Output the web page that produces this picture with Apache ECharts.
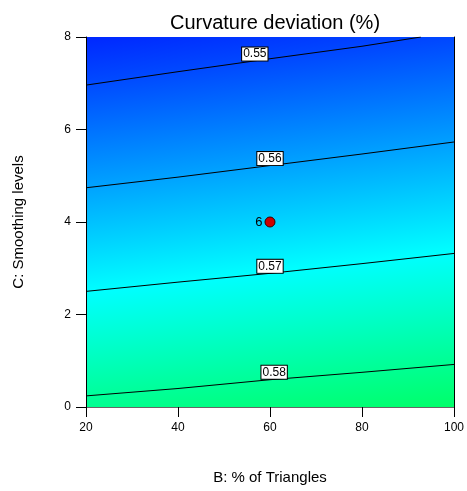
<!DOCTYPE html>
<html>
<head>
<meta charset="utf-8">
<script src="https://cdn.jsdelivr.net/npm/echarts@6/dist/echarts.min.js"></script>
<style>
html,body{margin:0;padding:0;background:#fff;}
#main{width:467px;height:491px;}
</style>
</head>
<body>
<div id="main"></div>
<script>
// axis ticks
var xTicks = [20, 40, 60, 80, 100];
var yTicks = [0, 2, 4, 6, 8];

// contour lines  [B, C]
var contour055 = [[20, 6.96], [40, 7.25], [60, 7.53], [80, 7.80], [92.8, 8.0]];
var contour056 = [[20, 4.74], [40, 4.97], [60, 5.22], [80, 5.47], [100, 5.73]];
var contour057 = [[20, 2.50], [40, 2.70], [60, 2.89], [80, 3.10], [100, 3.32]];
var contour058 = [[20, 0.24], [40, 0.40], [60, 0.59], [80, 0.75], [100, 0.92]];

// label spots on the contours  [B, C, text]
var contourLabels = [[56.7, 7.48, '0.55'], [60, 5.22, '0.56'], [60, 2.89, '0.57'], [60.9, 0.60, '0.58']];

// design point
var designPoint = [[60, 4, '6']];

// background shading: response level -> colour
var shadeLevels = [0.545, 0.55, 0.555, 0.56, 0.565, 0.57, 0.575, 0.58, 0.585];
var shadeColors = ['#0020FF', '#0048FF', '#0075FF', '#00A2FF', '#00D0FF', '#00FFFF', '#00FFCC', '#00FF98', '#00FF66'];

var myChart = echarts.init(document.getElementById('main'));

// build gradient stops from the levels
var lo = shadeLevels[0], hi = shadeLevels[shadeLevels.length - 1];
var stops = [];
for (var i = 0; i < shadeLevels.length; i++) {
	stops.push({offset: (shadeLevels[i] - lo) / (hi - lo), color: shadeColors[i]});
}
// tilted so it runs across the contour lines
var shade = new echarts.graphic.LinearGradient(0.434, -0.075, 0.564, 1.058, stops);

function contourSeries(data){
	return {
		type: 'line',
		data: data,
		symbol: 'none',
		silent: true,
		z: 3,
		lineStyle: {color: '#000', width: 1}
	};
}

var fontFam = '"Liberation Sans", Arial, sans-serif';

var option = {
	animation: false,
	title: {
		text: 'Curvature deviation (%)',
		left: 270,
		textAlign: 'center',
		top: 8,
		textStyle: {fontFamily: fontFam, fontWeight: 'normal', fontSize: 20, color: '#000'}
	},
	grid: {
		left: 86,
		right: 12,
		top: 37,
		bottom: 84,
		show: true,
		backgroundColor: shade,
		borderWidth: 0
	},
	xAxis: [
		{
			type: 'value',
			min: xTicks[0],
			max: xTicks[xTicks.length - 1],
			interval: xTicks[1] - xTicks[0],
			name: 'B: % of Triangles',
			nameLocation: 'middle',
			nameGap: 63,
			nameTextStyle: {fontFamily: fontFam, fontSize: 15, color: '#000'},
			axisLine: {show: true, lineStyle: {color: '#000', width: 1}},
			axisTick: {show: true, length: 10, lineStyle: {color: '#000'}},
			axisLabel: {fontFamily: fontFam, fontSize: 12, color: '#000', margin: 15},
			splitLine: {show: false}
		},
		{
			type: 'value',
			position: 'top',
			min: xTicks[0],
			max: xTicks[xTicks.length - 1],
			axisLine: {show: true, lineStyle: {color: '#666', width: 1}},
			axisTick: {show: false},
			axisLabel: {show: false},
			splitLine: {show: false}
		}
	],
	yAxis: [
		{
			type: 'value',
			min: yTicks[0],
			max: yTicks[yTicks.length - 1],
			interval: yTicks[1] - yTicks[0],
			name: 'C: Smoothing levels',
			nameLocation: 'middle',
			nameGap: 60,
			nameTextStyle: {fontFamily: fontFam, fontSize: 15, color: '#000'},
			axisLine: {show: true, lineStyle: {color: '#000', width: 1}},
			axisTick: {show: true, length: 10, lineStyle: {color: '#000'}},
			axisLabel: {fontFamily: fontFam, fontSize: 12, color: '#000', margin: 15},
			splitLine: {show: false}
		},
		{
			type: 'value',
			position: 'right',
			min: yTicks[0],
			max: yTicks[yTicks.length - 1],
			axisLine: {show: true, lineStyle: {color: '#000', width: 1}},
			axisTick: {show: false},
			axisLabel: {show: false},
			splitLine: {show: false}
		}
	],
	series: [
		contourSeries(contour055),
		contourSeries(contour056),
		contourSeries(contour057),
		contourSeries(contour058),
		{
			type: 'scatter',
			data: contourLabels,
			symbolSize: 0,
			silent: true,
			z: 5,
			itemStyle: {opacity: 1},
			label: {
				show: true,
				position: 'inside',
				offset: [0, -7],
				formatter: function(p){ return p.value[2]; },
				fontFamily: fontFam,
				fontSize: 12,
				color: '#000',
				backgroundColor: '#fff',
				borderColor: '#000',
				borderWidth: 1,
				padding: [1, 1, 0, 1]
			}
		},
		{
			type: 'scatter',
			data: designPoint,
			symbolSize: 10,
			z: 6,
			itemStyle: {color: '#CC0000', borderColor: '#330000', borderWidth: 1, opacity: 1},
			label: {
				show: true,
				position: 'left',
				distance: 2,
				formatter: function(p){ return p.value[2]; },
				fontFamily: fontFam,
				fontSize: 13,
				color: '#000'
			}
		}
	]
};

myChart.setOption(option);
</script>
</body>
</html>
